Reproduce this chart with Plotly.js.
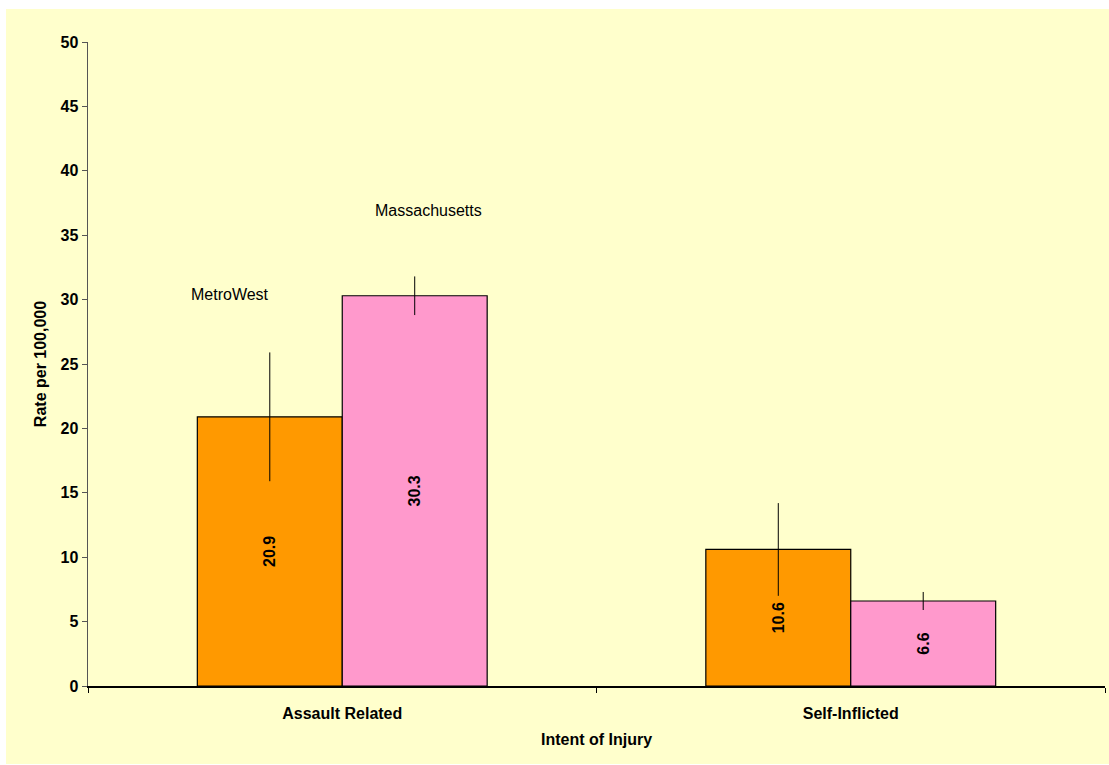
<!DOCTYPE html>
<html>
<head>
<meta charset="utf-8">
<script src="https://cdn.plot.ly/plotly-3.0.1.min.js"></script>
<style>
html,body{margin:0;padding:0;background:#ffffff;}
#chart{position:absolute;left:6px;top:9px;width:1103px;height:755px;}
</style>
</head>
<body>
<div id="chart"></div>
<script>
const categories = ["Assault Related", "Self-Inflicted"];
const metroWest = [20.9, 10.6];
const metroWestErr = [5.0, 3.6];
const massachusetts = [30.3, 6.6];
const massachusettsErr = [1.5, 0.7];
const yTicks = [0, 5, 10, 15, 20, 25, 30, 35, 40, 45, 50];

const F = "Liberation Sans, Arial, sans-serif";

function barTrace(name, y, err, color) {
  return {
    type: 'bar', name: name, x: categories, y: y,
    marker: {color: color, line: {color: '#000000', width: 1.2}},
    text: y.map(v => v.toFixed(1)),
    textposition: 'inside', insidetextanchor: 'middle', textangle: -90,
    textfont: {family: F, size: 16, color: '#000000', weight: 'bold'},
    error_y: {type: 'data', array: err, visible: true, color: '#000000', thickness: 1, width: 0},
    hoverinfo: 'none'
  };
}

const data = [
  barTrace('MetroWest', metroWest, metroWestErr, '#FF9900'),
  barTrace('Massachusetts', massachusetts, massachusettsErr, '#FF99CC')
];

const layout = {
  width: 1103, height: 755,
  margin: {l: 82, r: 4, t: 33, b: 78},
  paper_bgcolor: '#FFFFCC', plot_bgcolor: '#FFFFCC',
  barmode: 'group', bargap: 0.43, bargroupgap: 0,
  showlegend: false,
  font: {family: F, color: '#000000'},
  xaxis: {
    type: 'category', tickson: 'boundaries', ticks: 'outside', ticklen: 5, tickcolor: '#000000',
    showline: true, linecolor: '#000000', linewidth: 1.5, showgrid: false, zeroline: false,
    ticklabelstandoff: 12,
    tickfont: {family: F, size: 16, weight: 'bold'},
    title: {text: 'Intent of Injury', font: {family: F, size: 16, weight: 'bold'}, standoff: 13}
  },
  yaxis: {
    range: [0, 50], tickvals: yTicks, ticktext: yTicks.map(String),
    ticks: 'outside', ticklen: 5, tickcolor: '#555555',
    showline: true, linecolor: '#555555', linewidth: 1.5, showgrid: false, zeroline: false,
    tickfont: {family: F, size: 16, weight: 'bold'},
    title: {text: 'Rate per 100,000', font: {family: F, size: 16, weight: 'bold'}, standoff: 10}
  },
  annotations: [
    {x: -0.22, y: 30.43, xref: 'x', yref: 'y', text: 'MetroWest', showarrow: false,
     font: {family: F, size: 16, color: '#000000'}},
    {x: 0.169, y: 36.88, xref: 'x', yref: 'y', text: 'Massachusetts', showarrow: false,
     font: {family: F, size: 16, color: '#000000'}}
  ]
};

Plotly.newPlot('chart', data, layout, {displayModeBar: false, staticPlot: true});
</script>
</body>
</html>
